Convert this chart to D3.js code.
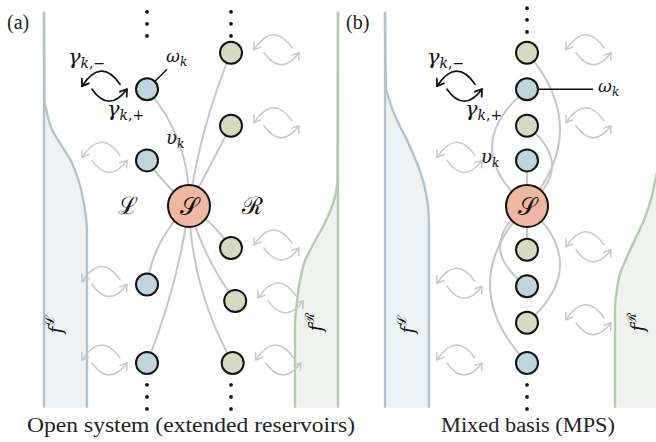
<!DOCTYPE html>
<html><head><meta charset="utf-8">
<script src="https://cdn.jsdelivr.net/npm/d3@7"></script>
<style>body{margin:0;background:#fff}svg{display:block}</style>
</head><body>
<svg id="fig" width="656" height="442"></svg>
<script>
// Mode energies (in units of the mode spacing, system level at 0)
const levelsAL = [3.2, 1.25, -2.15, -4.3];
const levelsAR = [4.2, 2.2, -1.15, -2.6, -4.3];
const lateralAR = [0, 0, 0, 0.1, 0.04];
const bendAL = [24, -4, 16, -10];
const bendAR = [-10, 0, -6, 10, 20];
// Mixed basis chain, top to bottom, with the lead each mode belongs to
const levelsB = [4.2, 3.2, 2.2, 1.25, -1.2, -2.2, -3.2, -4.3];
const leadsB = ["R", "L", "R", "L", "R", "L", "R", "L"];
const bendB = [66, -70, 50, 0, 0, 54, -66, 74];
// Ellipsis dots above/below each column
const dotsTopA = [5.32, 4.99, 4.66];
const dotsTopB = [5.42, 5.10, 4.77];
const dotsBottom = [-4.90, -5.23, -5.56];
// Fermi occupations of the leads: [energy, occupation]
const fermiAL = [[5.32,0],[2.90,0.01],[2.55,0.07],[2.08,0.19],[1.67,0.4],[1.18,0.65],[0.71,0.8],[0.25,0.9],[-0.25,0.97],[-0.71,1],[-5.53,1]];
const fermiAR = [[5.32,0],[0.71,0.01],[0.30,0.06],[-0.11,0.17],[-0.52,0.33],[-0.93,0.52],[-1.48,0.76],[-2.03,0.88],[-2.58,0.95],[-3.32,1],[-5.53,1]];
const fermiBL = [[5.32,0],[3.26,0.02],[2.90,0.1],[2.55,0.2],[2.16,0.35],[1.81,0.5],[1.45,0.63],[1.07,0.76],[0.71,0.86],[0.36,0.93],[-0.03,0.98],[-0.52,1],[-5.53,1]];
const fermiBR = [[5.32,0],[1.81,0.01],[1.26,0.05],[0.79,0.13],[0.16,0.24],[-0.38,0.38],[-0.85,0.55],[-1.29,0.71],[-1.56,0.8],[-1.84,0.89],[-2.30,0.96],[-2.85,1],[-5.53,1]];

const C = {
  L: "#bfd5dd", R: "#d5dac1", S: "#efb6a2",
  lineL: "#b2c2cf", fillL: "#eef2f4",
  lineR: "#b8c9b3", fillR: "#eff2ee",
  link: "#c6c6c6", glyph: "#c8c8c8"
};
const serif = "'Liberation Serif','DejaVu Serif',serif";
const mathFont = "'DejaVu Serif','Liberation Serif',serif";

const svg = d3.select("#fig");
svg.append("rect").attr("width", 656).attr("height", 442).attr("fill", "#fff");

const y = d3.scaleLinear().domain([0, 1]).range([206, 169.5]);
const xA = d3.scaleLinear().domain([-1, 1]).range([147, 231]);
const xB = 527;

// ---------- leads (Fermi functions) ----------
function lead(data, edge, amp) {
  const x = d => edge + amp * d[1];
  const area = d3.area().y(d => y(d[0])).x0(edge).x1(x).curve(d3.curveMonotoneY);
  const line = d3.line().y(d => y(d[0])).x(x).curve(d3.curveMonotoneY);
  const side = amp > 0 ? "L" : "R";
  svg.append("path").attr("d", area(data)).attr("fill", C["fill" + side]);
  svg.append("line").attr("x1", edge).attr("x2", edge)
    .attr("y1", y(data[0][0])).attr("y2", y(data[data.length - 1][0]))
    .attr("stroke", C["line" + side]).attr("stroke-width", 2.4);
  svg.append("path").attr("d", line(data)).attr("fill", "none")
    .attr("stroke", C["line" + side]).attr("stroke-width", 2.4);
}
lead(fermiAL, 44, 43);
lead(fermiAR, 338, -43);
lead(fermiBL, 385, 44);
lead(fermiBR, 662, -47);

// ---------- exchange glyphs ----------
function arrowHead(p, c, len, ang) {
  const dx = p[0] - c[0], dy = p[1] - c[1], L = Math.hypot(dx, dy);
  const ux = dx / L, uy = dy / L;
  const pts = [ang, -ang].map(a => {
    const cs = Math.cos(a), sn = Math.sin(a);
    const rx = ux * cs - uy * sn, ry = ux * sn + uy * cs;
    return [p[0] - len * rx, p[1] - len * ry];
  });
  return `M${pts[0]}L${p}L${pts[1]}`;
}
function swapGlyph(cx, cy, color, sw) {
  const g = svg.append("g").attr("transform", `translate(${cx},${cy})`)
    .attr("fill", "none").attr("stroke", color).attr("stroke-width", sw)
    .attr("stroke-linecap", "round").attr("stroke-linejoin", "round");
  const arcs = [
    {p0: [16, -3], c: [-3, -30], p1: [-22, -1]},
    {p0: [-12, 2], c: [5, 26], p1: [23, 2]}
  ];
  arcs.forEach(a => {
    g.append("path").attr("d", `M${a.p0}Q${a.c} ${a.p1}`);
    g.append("path").attr("d", arrowHead(a.p1, a.c, 7.5, 0.6));
  });
}

// ---------- panel geometry ----------
const S_A = [xA(0), y(0)], S_B = [xB, y(0)];
const nodesA = [
  ...levelsAL.map((l, i) => ({x: xA(-1), y: y(l), lead: "L", bend: bendAL[i], hi: i === 0})),
  ...levelsAR.map((l, i) => ({x: xA(1 + lateralAR[i]), y: y(l), lead: "R", bend: bendAR[i], hi: false}))
];
const nodesB = levelsB.map((l, i) => ({x: xB, y: y(l), lead: leadsB[i], bend: bendB[i], hi: l === 3.2}));

nodesA.forEach(n => {
  const gx = n.lead === "L" ? n.x - 43 : n.x + 45;
  swapGlyph(gx, n.y - 2, n.hi ? "#111" : C.glyph, n.hi ? 1.8 : 1.5);
});
nodesB.forEach(n => {
  const gx = n.lead === "L" ? n.x - 68 : n.x + 61;
  swapGlyph(gx, n.y - 2, n.hi ? "#111" : C.glyph, n.hi ? 1.8 : 1.5);
});

function linkPath(s, n) {
  const dx = n.x - s[0], dy = n.y - s[1], L = Math.hypot(dx, dy);
  const mx = (s[0] + n.x) / 2 + n.bend * (-dy / L);
  const my = (s[1] + n.y) / 2 + n.bend * (dx / L);
  return `M${s}Q${mx},${my} ${n.x},${n.y}`;
}
[[S_A, nodesA], [S_B, nodesB]].forEach(([s, nodes]) => {
  svg.append("g").selectAll("path").data(nodes).join("path")
    .attr("d", n => linkPath(s, n)).attr("fill", "none")
    .attr("stroke", C.link).attr("stroke-width", 2);
});

// omega_k pointer lines
const hiA = nodesA.find(n => n.hi), hiB = nodesB.find(n => n.hi);
svg.append("line").attr("x1", hiA.x).attr("y1", hiA.y).attr("x2", hiA.x + 20).attr("y2", hiA.y - 20)
  .attr("stroke", "#111").attr("stroke-width", 1.5);
svg.append("line").attr("x1", hiB.x).attr("y1", hiB.y).attr("x2", hiB.x + 66).attr("y2", hiB.y)
  .attr("stroke", "#111").attr("stroke-width", 1.5);

// nodes
[...nodesA, ...nodesB].forEach(n => {
  svg.append("circle").attr("cx", n.x).attr("cy", n.y).attr("r", 11)
    .attr("fill", C[n.lead]).attr("stroke", "#111").attr("stroke-width", 2);
});
[S_A, S_B].forEach(s => {
  svg.append("circle").attr("cx", s[0]).attr("cy", s[1]).attr("r", 21)
    .attr("fill", C.S).attr("stroke", "#111").attr("stroke-width", 2);
  svg.append("text").attr("x", s[0]).attr("y", s[1] + 1).attr("text-anchor", "middle")
    .attr("dominant-baseline", "central").attr("font-family", serif)
    .attr("font-size", 24).attr("fill", "#111").text("𝒮");
});

// ellipsis dots
function dots(x, levels) {
  levels.forEach(l => svg.append("circle").attr("cx", x).attr("cy", y(l)).attr("r", 1.9).attr("fill", "#111"));
}
dots(xA(-1), dotsTopA); dots(xA(1), dotsTopA);
dots(xA(-1), dotsBottom); dots(xA(1), dotsBottom);
dots(xB, dotsTopB); dots(xB, dotsBottom);

// ---------- labels ----------
function math(x, yy, main, sub, size, subSize) {
  const t = svg.append("text").attr("x", x).attr("y", yy).attr("font-family", mathFont)
    .attr("font-size", size).attr("fill", "#111");
  t.append("tspan").attr("font-style", "italic").text(main);
  const k = t.append("tspan").attr("font-size", subSize).attr("dy", 4);
  sub.forEach(s => k.append("tspan").attr("font-style", s.it ? "italic" : "normal").text(s.t));
  return t;
}
const kMinus = [{t: "k", it: true}, {t: ",−"}];
const kPlus = [{t: "k", it: true}, {t: ",+"}];
const kOnly = [{t: "k", it: true}];

math(68, 64, "γ", kMinus, 21, 14);
math(107, 116, "γ", kPlus, 21, 14);
math(166, 62, "ω", kOnly, 17, 12);
math(166, 144, "υ", kOnly, 18, 12);
math(427, 64, "γ", kMinus, 21, 14);
math(465, 116, "γ", kPlus, 21, 14);
math(598, 92, "ω", kOnly, 17, 12);
math(481, 163, "υ", kOnly, 18, 12);

[["ℒ", xA(-1) - 19], ["ℛ", xA(1) + 21]].forEach(([s, x]) => {
  svg.append("text").attr("x", x).attr("y", y(0)).attr("text-anchor", "middle")
    .attr("dominant-baseline", "central").attr("font-family", serif)
    .attr("font-size", 24).attr("fill", "#111").text(s);
});

// rotated occupation labels, reading bottom to top
function fLabel(cx, cy, sup) {
  const t = svg.append("text").attr("transform", `translate(${cx},${cy}) rotate(-90)`)
    .attr("x", 0).attr("y", 5).attr("text-anchor", "middle")
    .attr("font-family", mathFont).attr("font-size", 18).attr("fill", "#111");
  t.append("tspan").attr("font-style", "italic").text("f");
  t.append("tspan").attr("font-family", serif).attr("font-size", 13).attr("dx", 1).attr("dy", -8).text(sup);
}
fLabel(57, 324, "ℒ");
fLabel(317, 322, "ℛ");
fLabel(409, 324, "ℒ");
fLabel(639, 322, "ℛ");

svg.append("text").attr("x", 7).attr("y", 29).attr("font-family", serif).attr("font-size", 20)
  .attr("fill", "#222").text("(a)");
svg.append("text").attr("x", 346).attr("y", 29).attr("font-family", serif).attr("font-size", 20)
  .attr("fill", "#222").text("(b)");

svg.append("text").attr("x", 27).attr("y", 432).attr("font-family", serif).attr("font-size", 20)
  .attr("fill", "#222").attr("textLength", 328).attr("lengthAdjust", "spacingAndGlyphs")
  .text("Open system (extended reservoirs)");
svg.append("text").attr("x", 441).attr("y", 432).attr("font-family", serif).attr("font-size", 20)
  .attr("fill", "#222").attr("textLength", 174).attr("lengthAdjust", "spacingAndGlyphs")
  .text("Mixed basis (MPS)");
</script>
</body></html>
